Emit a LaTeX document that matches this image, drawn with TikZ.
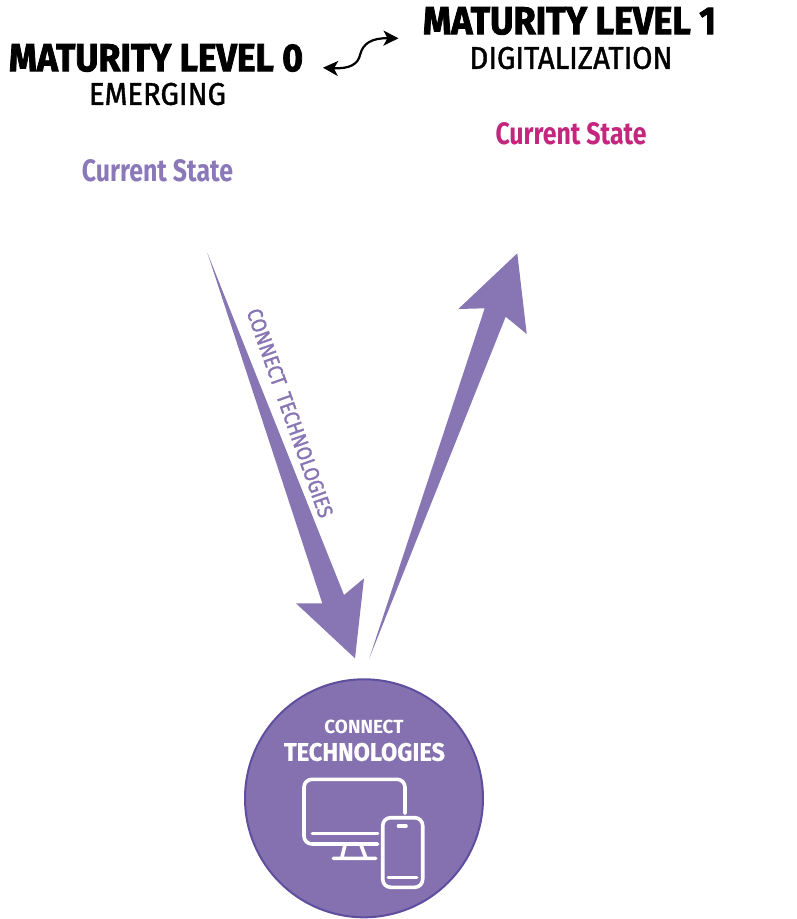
\documentclass[tikz,border=0pt]{standalone}
\usepackage{fontspec}
\usepackage{graphicx}
\usetikzlibrary{arrows.meta}
\setmainfont{Fira Sans}
\newfontfamily\heavyf[FakeBold=2.2]{Fira Sans}
\newfontfamily\medf[FakeBold=1.4]{Fira Sans}
\newfontfamily\semif[FakeBold=0.5]{Fira Sans}
\definecolor{arrowpurple}{HTML}{8875B3}
\definecolor{circlefill}{HTML}{8571B0}
\definecolor{circleedge}{HTML}{5F4E9E}
\definecolor{statepurple}{HTML}{8A78B8}
\definecolor{statepink}{HTML}{C4267E}
\newcommand{\fitbox}[3]{\resizebox{#1pt}{#2pt}{#3}}
\tikzset{
  every node/.style={inner sep=0pt,outer sep=0pt},
  bigarrow/.style={fill=arrowpurple,draw=none},
  iconline/.style={draw=white,line width=3.6pt,line cap=round,line join=round},
  headtext/.style={text=black},
}
\begin{document}
\begin{tikzpicture}[x=1pt,y=-1pt]
\useasboundingbox (0,0) rectangle (797,919);
% headings
\node[headtext] (lz) at (156,58) {\fitbox{294}{27}{\heavyf\bfseries MATURITY LEVEL 0}};
\node[headtext] (le) at (157.5,94) {\fitbox{137}{22}{\medf EMERGING}};
\node (lc) at (157.5,171) {\fitbox{151}{22}{\color{statepurple}\bfseries Current State}};
\node[headtext] (oz) at (569.5,21) {\fitbox{293}{27}{\heavyf\bfseries MATURITY LEVEL 1}};
\node[headtext] (oe) at (571,58) {\fitbox{203}{22}{\medf DIGITALIZATION}};
\node (oc) at (571,134) {\fitbox{151}{22}{\color{statepink}\bfseries Current State}};
% double arrow
\coordinate (dl) at (323,67.7);
\coordinate (dr) at (398.5,38.3);
\draw[line width=2.2pt,black,{Stealth[length=15pt,width=15pt,inset=4pt]}-{Stealth[length=15pt,width=15pt,inset=4pt]}] (dl) .. controls (350,69) and (358,64) .. (360,55) .. controls (363,43) and (372,38) .. (dr);
% big arrows
\fill[bigarrow] (207.3,252.7) -- (344,595) -- (364,578.3) -- (355,658.3) -- (296,603.3) -- (322.3,603.3) -- cycle;
\fill[bigarrow] (369.3,658.3) -- (484.7,308.3) -- (458.3,309) -- (517.3,253.3) -- (526.7,334) -- (505.7,316.7) -- cycle;
\node[rotate=-70.5,text=arrowpurple] (al) at (290,413) {\fitbox{220}{15}{\medf CONNECT\ \,TECHNOLOGIES}};
% circle
\node[circle,minimum size=238pt,fill=circlefill,draw=circleedge,line width=2pt] (disc) at (364,798.3) {};
\node[text=white] (c1) at (364,726.5) {\fitbox{79}{13.5}{\bfseries CONNECT}};
\node[text=white] (c2) at (364.5,752) {\fitbox{161}{18}{\semif\bfseries TECHNOLOGIES}};
% icon
\draw[iconline,rounded corners=8pt] (405,813.3) -- (405,779.3) -- (304,779.3) -- (304,844) -- (377.7,844);
\draw[iconline] (312.3,833.3) -- (377.7,833.3);
\draw[iconline] (345,845) -- (341.7,858.3) (361,845) -- (366,858.3) (333.3,858.3) -- (375.7,858.3);
\draw[iconline,rounded corners=8pt] (382.7,817.7) rectangle (422.7,887.3);
\draw[iconline] (398.5,826) -- (406,826) (388.3,877.3) -- (416.7,877.3);
\end{tikzpicture}
\end{document}
